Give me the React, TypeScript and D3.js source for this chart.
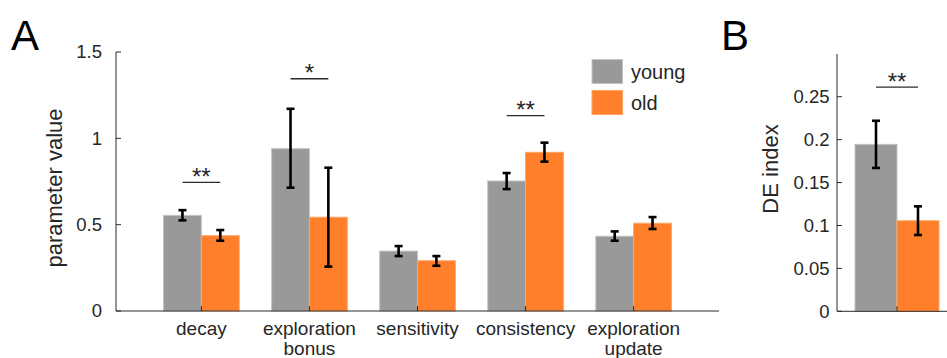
import React from "react";
import * as d3 from "d3";

const categories = ["decay", "exploration\nbonus", "sensitivity", "consistency", "exploration\nupdate"];
const youngMean = [0.554, 0.94, 0.347, 0.753, 0.433];
const youngLo = [0.525, 0.714, 0.318, 0.706, 0.407];
const youngHi = [0.584, 1.171, 0.376, 0.799, 0.461];
const oldMean = [0.436, 0.543, 0.291, 0.919, 0.508];
const oldLo = [0.407, 0.257, 0.262, 0.865, 0.475];
const oldHi = [0.469, 0.83, 0.318, 0.975, 0.544];
const sigA = [
  { cat: 0, y: 0.745, label: "**" },
  { cat: 1, y: 1.345, label: "*" },
  { cat: 3, y: 1.131, label: "**" },
];
const ticksA = [0, 0.5, 1, 1.5];
const tickLabelsA = ["0", "0.5", "1", "1.5"];

const deGroups = ["young", "old"];
const deMean = [0.1945, 0.1055];
const deLo = [0.167, 0.0889];
const deHi = [0.222, 0.1223];
const sigB = { y: 0.2613, label: "**" };
const ticksB = [0, 0.05, 0.1, 0.15, 0.2, 0.25];
const tickLabelsB = ["0", "0.05", "0.1", "0.15", "0.2", "0.25"];

const GRAY = "#999999";
const GRAY_EDGE = "#c4c4c4";
const ORANGE = "#ff7f2a";
const ORANGE_EDGE = "#ffa466";
const AXIS = "#2b2b2b";
const TEXT = "#262626";
const FONT = "'Liberation Sans', Arial, Helvetica, sans-serif";

function ErrBar({ x, y1, y2 }: { x: number; y1: number; y2: number }) {
  const w = 4;
  return (
    <g stroke="#000" strokeWidth={2.6} fill="none">
      <line x1={x} x2={x} y1={y1} y2={y2} />
      <line x1={x - w} x2={x + w} y1={y1} y2={y1} />
      <line x1={x - w} x2={x + w} y1={y2} y2={y2} />
    </g>
  );
}

export default function App() {
  // Panel A scales
  const xA = d3.scaleLinear().domain([0.21, 5.79]).range([116, 719]);
  const yA = d3.scaleLinear().domain([0, 1.5]).range([311, 52]);
  const bw = 0.35;
  const off = 0.175;
  const pxW = xA(bw) - xA(0);

  // Panel B scales
  const xB = d3.scaleLinear().domain([0.5, 1.5]).range([837, 957]);
  const yB = d3.scaleLinear().domain([0, 0.2998]).range([311.3, 54]);
  const pxWB = xB(bw) - xB(0);

  const series = [
    { mean: youngMean, lo: youngLo, hi: youngHi, fill: GRAY, edge: GRAY_EDGE, o: -off },
    { mean: oldMean, lo: oldLo, hi: oldHi, fill: ORANGE, edge: ORANGE_EDGE, o: off },
  ];

  return (
    <svg
      width={947}
      height={358}
      style={{ position: "absolute", left: 0, top: 0, background: "#fff" }}
      fontFamily={FONT}
    >
      <rect width={947} height={358} fill="#fff" />
      {/* Panel letters */}
      <text x={11} y={50} fontSize={42} fill="#000">A</text>
      <text x={721} y={50} fontSize={42} fill="#000">B</text>

      {/* ===== Panel A ===== */}
      {series.map((s, si) =>
        s.mean.map((v, i) => {
          const cx = xA(i + 1 + s.o);
          return (
            <rect
              key={`a${si}-${i}`}
              x={cx - pxW / 2}
              y={yA(v)}
              width={pxW}
              height={yA(0) - yA(v)}
              fill={s.fill}
              stroke={s.edge}
              strokeWidth={1}
            />
          );
        })
      )}
      {/* axes A */}
      <line x1={xA(0.21)} x2={xA(0.21)} y1={yA(0)} y2={yA(1.5)} stroke={AXIS} strokeWidth={1} />
      <line x1={xA(0.21)} x2={719} y1={yA(0)} y2={yA(0)} stroke={AXIS} strokeWidth={1} />
      {ticksA.map((t, i) => (
        <g key={`ta${i}`}>
          <line x1={116} x2={121} y1={yA(t)} y2={yA(t)} stroke={AXIS} />
          <text x={102} y={yA(t)} dy="0.35em" textAnchor="end" fontSize={18.5} fill={TEXT}>
            {tickLabelsA[i]}
          </text>
        </g>
      ))}
      {categories.map((c, i) => {
        const cx = xA(i + 1);
        const lines = c.split("\n");
        return (
          <g key={`ca${i}`}>
            <line x1={cx} x2={cx} y1={yA(0)} y2={yA(0) - 5} stroke={AXIS} />
            {lines.map((l, j) => (
              <text key={j} x={cx} y={335 + j * 20} textAnchor="middle" fontSize={19} fill={TEXT}>
                {l}
              </text>
            ))}
          </g>
        );
      })}
      {series.map((s, si) =>
        s.mean.map((_, i) => (
          <ErrBar key={`ea${si}-${i}`} x={xA(i + 1 + s.o)} y1={yA(s.hi[i])} y2={yA(s.lo[i])} />
        ))
      )}
      {sigA.map((s, i) => (
        <g key={`sa${i}`}>
          <line
            x1={xA(s.cat + 1 - off)}
            x2={xA(s.cat + 1 + off)}
            y1={yA(s.y)}
            y2={yA(s.y)}
            stroke={AXIS}
            strokeWidth={1.3}
          />
          <text x={xA(s.cat + 1)} y={yA(s.y) + 2.5} textAnchor="middle" fontSize={24} fill={TEXT}>
            {s.label}
          </text>
        </g>
      ))}
      <text
        transform={`translate(62,188) rotate(-90)`}
        textAnchor="middle"
        fontSize={22}
        fill={TEXT}
      >
        parameter value
      </text>

      {/* legend */}
      <rect x={592} y={59.5} width={30.5} height={24} fill={GRAY} stroke={GRAY_EDGE} />
      <rect x={592} y={90.5} width={30.5} height={24} fill={ORANGE} stroke={ORANGE_EDGE} />
      <text x={631} y={71.5} dy="0.35em" fontSize={20} fill={TEXT}>young</text>
      <text x={631} y={102.5} dy="0.35em" fontSize={20} fill={TEXT}>old</text>

      {/* ===== Panel B ===== */}
      {deMean.map((v, i) => {
        const cx = xB(1 + (i === 0 ? -off : off));
        return (
          <rect
            key={`b${i}`}
            x={cx - pxWB / 2}
            y={yB(v)}
            width={pxWB}
            height={yB(0) - yB(v)}
            fill={i === 0 ? GRAY : ORANGE}
            stroke={i === 0 ? GRAY_EDGE : ORANGE_EDGE}
            strokeWidth={1}
          />
        );
      })}
      <line x1={837} x2={837} y1={yB(0)} y2={yB(0.2998)} stroke={AXIS} />
      <line x1={837} x2={957} y1={yB(0)} y2={yB(0)} stroke={AXIS} />
      <line x1={xB(1)} x2={xB(1)} y1={yB(0)} y2={yB(0) - 5} stroke={AXIS} />
      {ticksB.map((t, i) => (
        <g key={`tb${i}`}>
          <line x1={837} x2={842} y1={yB(t)} y2={yB(t)} stroke={AXIS} />
          <text x={829.5} y={yB(t)} dy="0.35em" textAnchor="end" fontSize={18.5} fill={TEXT}>
            {tickLabelsB[i]}
          </text>
        </g>
      ))}
      {deMean.map((_, i) => (
        <ErrBar
          key={`eb${i}`}
          x={xB(1 + (i === 0 ? -off : off))}
          y1={yB(deHi[i])}
          y2={yB(deLo[i])}
        />
      ))}
      <line x1={xB(1 - off)} x2={xB(1 + off)} y1={yB(sigB.y)} y2={yB(sigB.y)} stroke={AXIS} strokeWidth={1.3} />
      <text x={xB(1)} y={yB(sigB.y) + 2.5} textAnchor="middle" fontSize={24} fill={TEXT}>
        {sigB.label}
      </text>
      <text
        transform={`translate(778,169) rotate(-90)`}
        textAnchor="middle"
        fontSize={22}
        fill={TEXT}
      >
        DE index
      </text>
      <title>{deGroups.join(",")}</title>
    </svg>
  );
}
